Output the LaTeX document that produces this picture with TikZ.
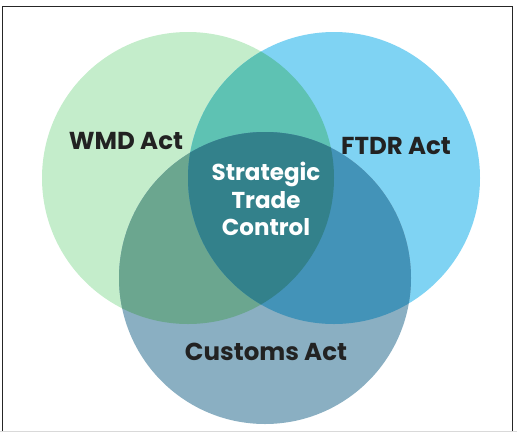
\documentclass[tikz,border=0pt]{standalone}
\usepackage{fontspec}
\setmainfont{Poppins}
\definecolor{cGreen}{HTML}{C4EDCB}
\definecolor{cBlue}{HTML}{7FD3F3}
\definecolor{cCust}{HTML}{8AAFC2}
\definecolor{cGB}{HTML}{5EC2B3}
\definecolor{cGC}{HTML}{6BA68F}
\definecolor{cBC}{HTML}{4393B8}
\definecolor{cAll}{HTML}{33818B}
\definecolor{cText}{HTML}{222222}
\begin{document}
\begin{tikzpicture}[x=1pt,y=-1pt,
  lbl/.style={font=\bfseries\fontsize{24.5}{28}\selectfont, text=cText, inner sep=0pt},
  clbl/.style={font=\bfseries\fontsize{23}{27.5}\selectfont, text=white, align=center, inner sep=0pt},
  frame/.style={draw=black!85, line width=1.4pt}]
\useasboundingbox (0,0) rectangle (517,432);
\def\R{146}
\coordinate (g) at (188,178);
\coordinate (b) at (334,178);
\coordinate (c) at (265,278);
% base circles
\fill[cGreen] (g) circle (\R);
\fill[cBlue] (b) circle (\R);
\fill[cCust] (c) circle (\R);
% pairwise overlaps
\begin{scope}
  \clip (g) circle (\R);
  \fill[cGB] (b) circle (\R);
  \fill[cGC] (c) circle (\R);
\end{scope}
\begin{scope}
  \clip (b) circle (\R);
  \fill[cBC] (c) circle (\R);
\end{scope}
\begin{scope}
  \clip (g) circle (\R);
  \clip (b) circle (\R);
  \fill[cAll] (c) circle (\R);
\end{scope}
% labels
\node[lbl] (wmd) at (126,141) {WMD Act};
\node[lbl] (ftdr) at (396,146) {FTDR Act};
\node[lbl] (cust) at (266,352) {Customs Act};
\node[clbl] (stc) at (266,199) {Strategic\\Trade\\Control};
% frame
\draw[frame] (2.5,432) -- (2.5,6.5) -- (512.5,6.5) -- (512.5,432);
\draw[black!15, line width=1pt] (0,431.5) -- (517,431.5);
\end{tikzpicture}
\end{document}
